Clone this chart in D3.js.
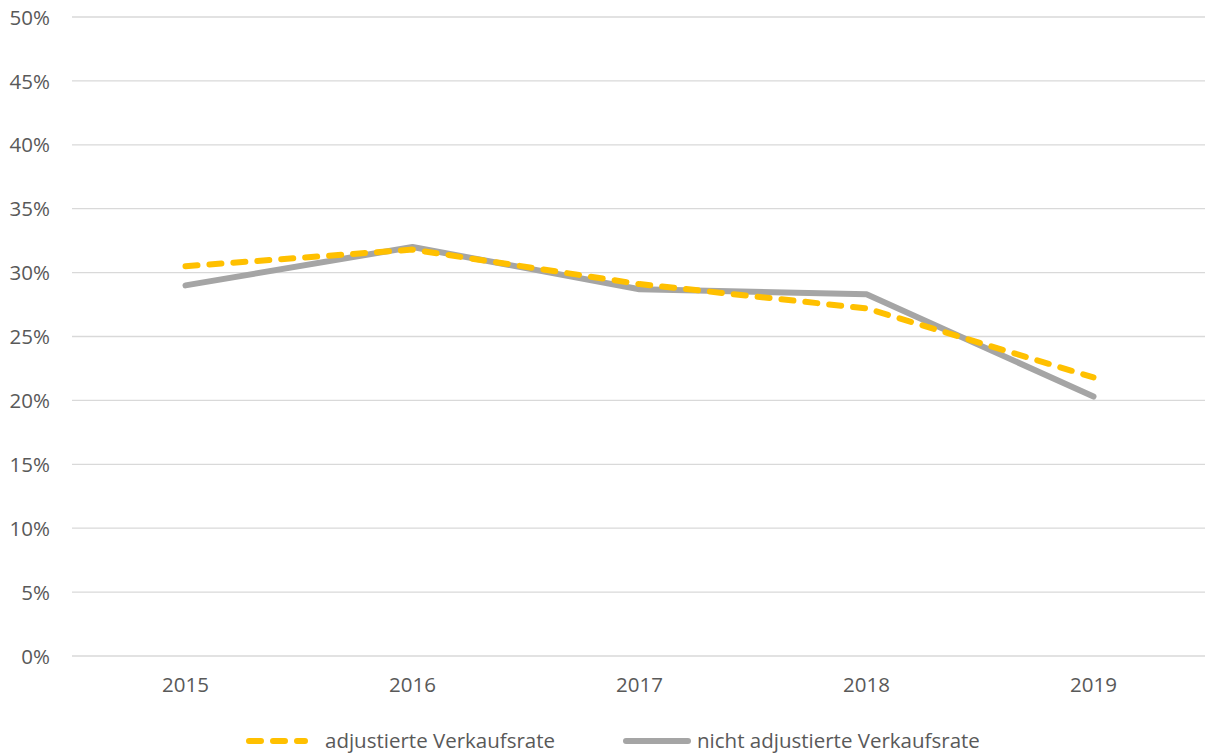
<!DOCTYPE html>
<html>
<head>
<meta charset="utf-8">
<script src="https://cdn.jsdelivr.net/npm/d3@7"></script>
<style>
  body { margin: 0; background: #fff; }
  text { font-family: "Open Sans", "Liberation Sans", sans-serif; fill: #595959; }
</style>
</head>
<body>
<div id="chart"></div>
<script>
var years = ["2015", "2016", "2017", "2018", "2019"];
var adjusted = [30.5, 31.8, 29.1, 27.2, 21.8];
var notAdjusted = [29.0, 32.0, 28.7, 28.3, 20.3];
var yTicks = [0, 5, 10, 15, 20, 25, 30, 35, 40, 45, 50];
var seriesNames = ["adjustierte Verkaufsrate", "nicht adjustierte Verkaufsrate"];

var width = 1206, height = 756;
var margin = {top: 17, right: 0, bottom: 100, left: 72};
var plotW = 1207 - margin.left;
var plotH = 656 - margin.top;
var fontSize = '20.5px';

var svg = d3.select('#chart').append('svg')
    .attr('width', width)
    .attr('height', height);

var g = svg.append('g')
    .attr('transform', 'translate(' + margin.left + ',' + margin.top + ')');

var x = d3.scaleBand().domain(years).range([0, plotW]);
var y = d3.scaleLinear().domain([0, 50]).range([plotH, 0]);

// gridlines
g.selectAll('.grid')
    .data(yTicks)
    .enter()
    .append('line')
    .attr('x1', 0)
    .attr('x2', plotW - 2)
    .attr('y1', d => y(d))
    .attr('y2', d => y(d))
    .style('stroke', '#d9d9d9')
    .style('stroke-width', 1.3);

// y labels
var yAxis = d3.axisLeft(y).tickValues(yTicks).tickSize(0).tickPadding(22)
    .tickFormat(d => d + '%');
g.append('g').call(yAxis)
    .call(s => s.select('.domain').remove())
    .selectAll('text')
    .style('font-size', fontSize)
    .attr('dy', '0.35em');

// x labels
var xAxis = d3.axisBottom(x).tickSize(0).tickPadding(21);
g.append('g')
    .attr('transform', 'translate(0,' + plotH + ')')
    .call(xAxis)
    .call(s => s.select('.domain').remove())
    .selectAll('text')
    .style('font-size', fontSize);

var line = d3.line()
    .x((d, i) => x(years[i]) + x.bandwidth() / 2)
    .y(d => y(d));

g.append('path')
    .datum(notAdjusted)
    .attr('d', line)
    .style('fill', 'none')
    .style('stroke', '#a5a5a5')
    .style('stroke-width', 6)
    .style('stroke-linecap', 'round')
    .style('stroke-linejoin', 'round');

g.append('path')
    .datum(adjusted)
    .attr('d', line)
    .style('fill', 'none')
    .style('stroke', '#ffc000')
    .style('stroke-width', 6)
    .style('stroke-dasharray', '12 12')
    .style('stroke-linecap', 'round')
    .style('stroke-linejoin', 'round');

// legend
var legY = 741;
svg.append('line')
    .attr('x1', 249).attr('x2', 305)
    .attr('y1', legY).attr('y2', legY)
    .style('stroke', '#ffc000')
    .style('stroke-width', 6)
    .style('stroke-dasharray', '12 12')
    .style('stroke-linecap', 'round');
svg.append('text')
    .attr('x', 325).attr('y', legY)
    .attr('dy', '0.35em')
    .style('font-size', fontSize)
    .text(seriesNames[0]);

svg.append('line')
    .attr('x1', 626).attr('x2', 688)
    .attr('y1', legY).attr('y2', legY)
    .style('stroke', '#a5a5a5')
    .style('stroke-width', 6)
    .style('stroke-linecap', 'round');
svg.append('text')
    .attr('x', 697).attr('y', legY)
    .attr('dy', '0.35em')
    .style('font-size', fontSize)
    .text(seriesNames[1]);
</script>
</body>
</html>
